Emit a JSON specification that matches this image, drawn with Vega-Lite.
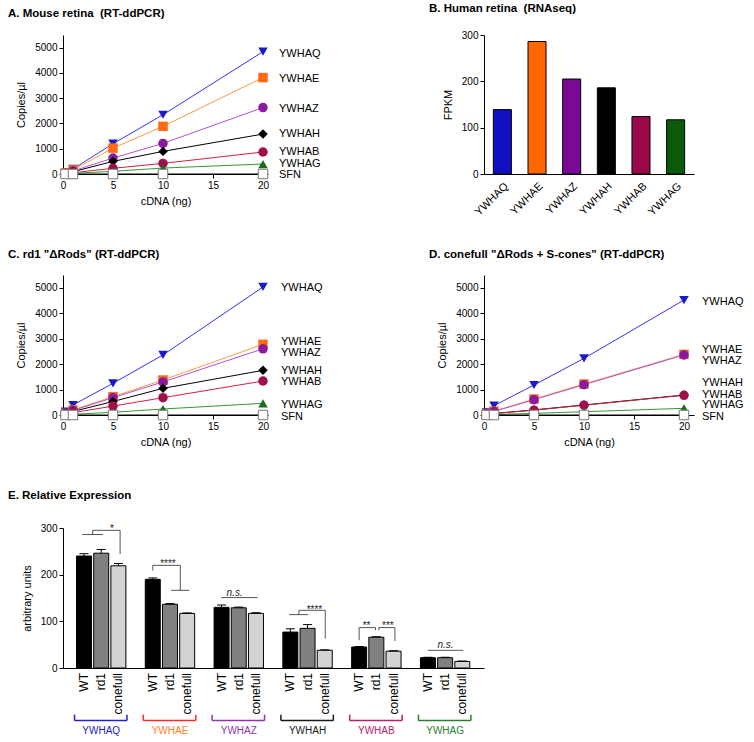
{
  "$schema": "https://vega.github.io/schema/vega-lite/v6.json",
  "padding": {"left": 8, "top": 2, "right": 5, "bottom": 5},
  "config": {
    "font": "Liberation Sans",
    "view": {"stroke": null},
    "axis": {"grid": false, "domainColor": "#000", "tickColor": "#000", "labelColor": "#000", "titleColor": "#000", "labelFontSize": 10, "titleFontSize": 11, "titleFontWeight": "normal", "tickSize": 4, "labelPadding": 2, "labelFlush": false, "labelOverlap": false},
    "axisQuantitative": {"format": "d"},
    "axisX": {"titlePadding": 5},
    "axisY": {"titlePadding": 8},
    "title": {"fontSize": 11.5, "fontWeight": "bold", "anchor": "start", "frame": "group", "dx": -55, "color": "#000", "offset": 16}
  },
  "resolve": {"scale": {"fill": "independent", "stroke": "independent", "shape": "independent", "color": "independent"}},
  "datasets": {
    "curves": [
      {"p":"A","s":"YWHAQ","ng":0.25,"c":60},{"p":"A","s":"YWHAQ","ng":1,"c":200},{"p":"A","s":"YWHAQ","ng":5,"c":1200},{"p":"A","s":"YWHAQ","ng":10,"c":2345},{"p":"A","s":"YWHAQ","ng":20,"c":4840},
      {"p":"A","s":"YWHAE","ng":0.25,"c":45},{"p":"A","s":"YWHAE","ng":1,"c":160},{"p":"A","s":"YWHAE","ng":5,"c":1025},{"p":"A","s":"YWHAE","ng":10,"c":1885},{"p":"A","s":"YWHAE","ng":20,"c":3815},
      {"p":"A","s":"YWHAZ","ng":0.25,"c":30},{"p":"A","s":"YWHAZ","ng":1,"c":120},{"p":"A","s":"YWHAZ","ng":5,"c":630},{"p":"A","s":"YWHAZ","ng":10,"c":1210},{"p":"A","s":"YWHAZ","ng":20,"c":2630},
      {"p":"A","s":"YWHAH","ng":0.25,"c":20},{"p":"A","s":"YWHAH","ng":1,"c":90},{"p":"A","s":"YWHAH","ng":5,"c":500},{"p":"A","s":"YWHAH","ng":10,"c":895},{"p":"A","s":"YWHAH","ng":20,"c":1580},
      {"p":"A","s":"YWHAB","ng":0.25,"c":12},{"p":"A","s":"YWHAB","ng":1,"c":50},{"p":"A","s":"YWHAB","ng":5,"c":225},{"p":"A","s":"YWHAB","ng":10,"c":420},{"p":"A","s":"YWHAB","ng":20,"c":870},
      {"p":"A","s":"YWHAG","ng":0.25,"c":5},{"p":"A","s":"YWHAG","ng":1,"c":25},{"p":"A","s":"YWHAG","ng":5,"c":105},{"p":"A","s":"YWHAG","ng":10,"c":235},{"p":"A","s":"YWHAG","ng":20,"c":395},
      {"p":"A","s":"SFN","ng":0.25,"c":0},{"p":"A","s":"SFN","ng":1,"c":0},{"p":"A","s":"SFN","ng":5,"c":0},{"p":"A","s":"SFN","ng":10,"c":0},{"p":"A","s":"SFN","ng":20,"c":0},
      {"p":"C","s":"YWHAQ","ng":0.25,"c":130},{"p":"C","s":"YWHAQ","ng":1,"c":393},{"p":"C","s":"YWHAQ","ng":5,"c":1245},{"p":"C","s":"YWHAQ","ng":10,"c":2360},{"p":"C","s":"YWHAQ","ng":20,"c":5030},
      {"p":"C","s":"YWHAE","ng":0.25,"c":60},{"p":"C","s":"YWHAE","ng":1,"c":200},{"p":"C","s":"YWHAE","ng":5,"c":720},{"p":"C","s":"YWHAE","ng":10,"c":1375},{"p":"C","s":"YWHAE","ng":20,"c":2776},
      {"p":"C","s":"YWHAZ","ng":0.25,"c":50},{"p":"C","s":"YWHAZ","ng":1,"c":180},{"p":"C","s":"YWHAZ","ng":5,"c":680},{"p":"C","s":"YWHAZ","ng":10,"c":1300},{"p":"C","s":"YWHAZ","ng":20,"c":2600},
      {"p":"C","s":"YWHAH","ng":0.25,"c":40},{"p":"C","s":"YWHAH","ng":1,"c":140},{"p":"C","s":"YWHAH","ng":5,"c":530},{"p":"C","s":"YWHAH","ng":10,"c":1047},{"p":"C","s":"YWHAH","ng":20,"c":1754},
      {"p":"C","s":"YWHAB","ng":0.25,"c":25},{"p":"C","s":"YWHAB","ng":1,"c":90},{"p":"C","s":"YWHAB","ng":5,"c":350},{"p":"C","s":"YWHAB","ng":10,"c":680},{"p":"C","s":"YWHAB","ng":20,"c":1335},
      {"p":"C","s":"YWHAG","ng":0.25,"c":10},{"p":"C","s":"YWHAG","ng":1,"c":30},{"p":"C","s":"YWHAG","ng":5,"c":105},{"p":"C","s":"YWHAG","ng":10,"c":236},{"p":"C","s":"YWHAG","ng":20,"c":458},
      {"p":"C","s":"SFN","ng":0.25,"c":0},{"p":"C","s":"SFN","ng":1,"c":0},{"p":"C","s":"SFN","ng":5,"c":0},{"p":"C","s":"SFN","ng":10,"c":0},{"p":"C","s":"SFN","ng":20,"c":0},
      {"p":"D","s":"YWHAQ","ng":0.25,"c":105},{"p":"D","s":"YWHAQ","ng":1,"c":367},{"p":"D","s":"YWHAQ","ng":5,"c":1178},{"p":"D","s":"YWHAQ","ng":10,"c":2225},{"p":"D","s":"YWHAQ","ng":20,"c":4517},
      {"p":"D","s":"YWHAE","ng":0.25,"c":50},{"p":"D","s":"YWHAE","ng":1,"c":150},{"p":"D","s":"YWHAE","ng":5,"c":628},{"p":"D","s":"YWHAE","ng":10,"c":1217},{"p":"D","s":"YWHAE","ng":20,"c":2382},
      {"p":"D","s":"YWHAZ","ng":0.25,"c":45},{"p":"D","s":"YWHAZ","ng":1,"c":140},{"p":"D","s":"YWHAZ","ng":5,"c":600},{"p":"D","s":"YWHAZ","ng":10,"c":1190},{"p":"D","s":"YWHAZ","ng":20,"c":2360},
      {"p":"D","s":"YWHAH","ng":0.25,"c":20},{"p":"D","s":"YWHAH","ng":1,"c":60},{"p":"D","s":"YWHAH","ng":5,"c":200},{"p":"D","s":"YWHAH","ng":10,"c":393},{"p":"D","s":"YWHAH","ng":20,"c":785},
      {"p":"D","s":"YWHAB","ng":0.25,"c":18},{"p":"D","s":"YWHAB","ng":1,"c":55},{"p":"D","s":"YWHAB","ng":5,"c":190},{"p":"D","s":"YWHAB","ng":10,"c":385},{"p":"D","s":"YWHAB","ng":20,"c":775},
      {"p":"D","s":"YWHAG","ng":0.25,"c":8},{"p":"D","s":"YWHAG","ng":1,"c":20},{"p":"D","s":"YWHAG","ng":5,"c":65},{"p":"D","s":"YWHAG","ng":10,"c":130},{"p":"D","s":"YWHAG","ng":20,"c":262},
      {"p":"D","s":"SFN","ng":0.25,"c":0},{"p":"D","s":"SFN","ng":1,"c":0},{"p":"D","s":"SFN","ng":5,"c":0},{"p":"D","s":"SFN","ng":10,"c":0},{"p":"D","s":"SFN","ng":20,"c":0}
    ],
    "ends": [
      {"p":"A","s":"YWHAQ","ng":20,"c":4760},{"p":"A","s":"YWHAE","ng":20,"c":3775},{"p":"A","s":"YWHAZ","ng":20,"c":2590},{"p":"A","s":"YWHAH","ng":20,"c":1565},{"p":"A","s":"YWHAB","ng":20,"c":855},{"p":"A","s":"YWHAG","ng":20,"c":385},{"p":"A","s":"SFN","ng":20,"c":-50},
      {"p":"C","s":"YWHAQ","ng":20,"c":5000},{"p":"C","s":"YWHAE","ng":20,"c":2880},{"p":"C","s":"YWHAZ","ng":20,"c":2450},{"p":"C","s":"YWHAH","ng":20,"c":1740},{"p":"C","s":"YWHAB","ng":20,"c":1280},{"p":"C","s":"YWHAG","ng":20,"c":405},{"p":"C","s":"SFN","ng":20,"c":-67},
      {"p":"D","s":"YWHAQ","ng":20,"c":4450},{"p":"D","s":"YWHAE","ng":20,"c":2566},{"p":"D","s":"YWHAZ","ng":20,"c":2134},{"p":"D","s":"YWHAH","ng":20,"c":1260},{"p":"D","s":"YWHAB","ng":20,"c":800},{"p":"D","s":"YWHAG","ng":20,"c":390},{"p":"D","s":"SFN","ng":20,"c":-75}
    ],
    "human": [
      {"gene":"YWHAQ","fpkm":139},{"gene":"YWHAE","fpkm":286},{"gene":"YWHAZ","fpkm":205},{"gene":"YWHAH","fpkm":186},{"gene":"YWHAB","fpkm":124},{"gene":"YWHAG","fpkm":117}
    ],
    "rel": [
      {"gene":"YWHAQ","geno":"WT","pos":0,"mean":240,"hi":245},{"gene":"YWHAQ","geno":"rd1","pos":1,"mean":246,"hi":254},{"gene":"YWHAQ","geno":"conefull","pos":2,"mean":219,"hi":224},
      {"gene":"YWHAE","geno":"WT","pos":4,"mean":190,"hi":193},{"gene":"YWHAE","geno":"rd1","pos":5,"mean":136.5,"hi":138},{"gene":"YWHAE","geno":"conefull","pos":6,"mean":117,"hi":118},
      {"gene":"YWHAZ","geno":"WT","pos":8,"mean":130,"hi":135},{"gene":"YWHAZ","geno":"rd1","pos":9,"mean":129,"hi":130.5},{"gene":"YWHAZ","geno":"conefull","pos":10,"mean":117,"hi":118.5},
      {"gene":"YWHAH","geno":"WT","pos":12,"mean":77,"hi":84},{"gene":"YWHAH","geno":"rd1","pos":13,"mean":85,"hi":93},{"gene":"YWHAH","geno":"conefull","pos":14,"mean":38,"hi":39},
      {"gene":"YWHAB","geno":"WT","pos":16,"mean":45,"hi":46},{"gene":"YWHAB","geno":"rd1","pos":17,"mean":66,"hi":67},{"gene":"YWHAB","geno":"conefull","pos":18,"mean":36,"hi":37},
      {"gene":"YWHAG","geno":"WT","pos":20,"mean":22,"hi":23},{"gene":"YWHAG","geno":"rd1","pos":21,"mean":22,"hi":23},{"gene":"YWHAG","geno":"conefull","pos":22,"mean":14,"hi":15}
    ],
    "seg": [
      {"x":-0.1,"x2":1.1,"y":286,"y2":286},{"x":0.5,"x2":0.5,"y":286,"y2":295},{"x":0.5,"x2":2.1,"y":295,"y2":295},{"x":2.1,"x2":2.1,"y":295,"y2":244},
      {"x":4.0,"x2":4.0,"y":209,"y2":220},{"x":4.0,"x2":5.6,"y":220,"y2":220},{"x":5.6,"x2":5.6,"y":220,"y2":166.5},{"x":5.07,"x2":6.12,"y":166.5,"y2":166.5},
      {"x":7.97,"x2":10.09,"y":150.9,"y2":150.9},
      {"x":11.94,"x2":13.02,"y":114.4,"y2":114.4},{"x":12.5,"x2":12.5,"y":114.4,"y2":123.6},{"x":12.5,"x2":14.03,"y":123.6,"y2":123.6},{"x":14.03,"x2":14.03,"y":123.6,"y2":63},
      {"x":16.0,"x2":16.0,"y":59.4,"y2":86.6},{"x":16.0,"x2":16.95,"y":86.6,"y2":86.6},{"x":16.95,"x2":16.95,"y":86.6,"y2":80.8},
      {"x":17.14,"x2":17.14,"y":86.6,"y2":80.8},{"x":17.14,"x2":18.08,"y":86.6,"y2":86.6},{"x":18.08,"x2":18.08,"y":86.6,"y2":57.9},
      {"x":19.99,"x2":22.06,"y":37.9,"y2":37.9}
    ],
    "sig": [
      {"x":1.63,"y":297.8,"t":"*","it":false},{"x":4.88,"y":222.8,"t":"****","it":false},{"x":8.76,"y":160,"t":"n.s.","it":true},
      {"x":13.4,"y":124.9,"t":"****","it":false},{"x":16.43,"y":89.4,"t":"**","it":false},{"x":17.67,"y":89.4,"t":"***","it":false},{"x":21.02,"y":48.6,"t":"n.s.","it":true}
    ],
    "brk": [
      {"gene":"YWHAQ","x":-0.55,"x2":2.5,"y":-112.7,"y2":-112.7},{"gene":"YWHAQ","x":-0.55,"x2":-0.55,"y":-112.7,"y2":-100},{"gene":"YWHAQ","x":2.5,"x2":2.5,"y":-112.7,"y2":-100},
      {"gene":"YWHAE","x":3.45,"x2":6.5,"y":-112.7,"y2":-112.7},{"gene":"YWHAE","x":3.45,"x2":3.45,"y":-112.7,"y2":-100},{"gene":"YWHAE","x":6.5,"x2":6.5,"y":-112.7,"y2":-100},
      {"gene":"YWHAZ","x":7.45,"x2":10.5,"y":-112.7,"y2":-112.7},{"gene":"YWHAZ","x":7.45,"x2":7.45,"y":-112.7,"y2":-100},{"gene":"YWHAZ","x":10.5,"x2":10.5,"y":-112.7,"y2":-100},
      {"gene":"YWHAH","x":11.45,"x2":14.5,"y":-112.7,"y2":-112.7},{"gene":"YWHAH","x":11.45,"x2":11.45,"y":-112.7,"y2":-100},{"gene":"YWHAH","x":14.5,"x2":14.5,"y":-112.7,"y2":-100},
      {"gene":"YWHAB","x":15.45,"x2":18.5,"y":-112.7,"y2":-112.7},{"gene":"YWHAB","x":15.45,"x2":15.45,"y":-112.7,"y2":-100},{"gene":"YWHAB","x":18.5,"x2":18.5,"y":-112.7,"y2":-100},
      {"gene":"YWHAG","x":19.45,"x2":22.5,"y":-112.7,"y2":-112.7},{"gene":"YWHAG","x":19.45,"x2":19.45,"y":-112.7,"y2":-100},{"gene":"YWHAG","x":22.5,"x2":22.5,"y":-112.7,"y2":-100}
    ],
    "gname": [
      {"gene":"YWHAQ","x":1,"y":-134.8},{"gene":"YWHAE","x":5,"y":-134.8},{"gene":"YWHAZ","x":9,"y":-134.8},{"gene":"YWHAH","x":13,"y":-134.8},{"gene":"YWHAB","x":17,"y":-134.8},{"gene":"YWHAG","x":21,"y":-134.8}
    ]
  },
  "vconcat": [
    {
      "resolve": {"scale": {"fill": "independent", "stroke": "independent", "shape": "independent", "color": "independent"}},
      "vconcat": [
        {
          "resolve": {"scale": {"fill": "independent", "stroke": "independent", "shape": "independent", "color": "independent"}},
          "hconcat": [
            {
              "width": 205, "height": 139,
              "title": {"text": "A. Mouse retina \u00a0(RT-ddPCR)", "anchor": "start", "frame": "group", "dx": -55, "offset": 16},
              "encoding": {
                "x": {"field": "ng", "type": "quantitative", "scale": {"domain": [0, 20.5], "nice": false, "zero": false}, "axis": {"values": [0,5,10,15,20], "title": "cDNA (ng)"}},
                "y": {"field": "c", "type": "quantitative", "scale": {"domain": [0, 5500], "nice": false}, "axis": {"values": [0,1000,2000,3000,4000,5000], "title": "Copies/µl"}}
              },
              "layer": [
                {"data": {"name": "curves"}, "transform": [{"filter": "datum.p === 'A'"}],
                 "mark": {"type": "line", "strokeWidth": 1},
                 "encoding": {"stroke": {"field": "s", "type": "nominal", "legend": null, "scale": {"domain": ["YWHAQ","YWHAE","YWHAZ","YWHAH","YWHAB","YWHAG","SFN"], "range": ["#3333ee","#ff9944","#a855d6","#000000","#cc2244","#339933","#000000"]}}}},
                {"data": {"name": "curves"}, "transform": [{"filter": "datum.p === 'A' && datum.s !== 'SFN'"}],
                 "mark": {"type": "point", "filled": true, "size": 90, "opacity": 1},
                 "encoding": {
                   "fill": {"field": "s", "type": "nominal", "legend": null, "scale": {"domain": ["YWHAQ","YWHAE","YWHAZ","YWHAH","YWHAB","YWHAG"], "range": ["#1a1ac8","#ff6a13","#8a1aa0","#000000","#a0104a","#1f6b1f"]}},
                   "shape": {"field": "s", "type": "nominal", "legend": null, "scale": {"domain": ["YWHAQ","YWHAE","YWHAZ","YWHAH","YWHAB","YWHAG"], "range": ["triangle-down","square","circle","diamond","circle","triangle-up"]}}}},
                {"data": {"name": "curves"}, "transform": [{"filter": "datum.p === 'A' && datum.s === 'SFN'"}],
                 "mark": {"type": "point", "shape": "square", "filled": true, "fill": "#ffffff", "stroke": "#777777", "strokeWidth": 1, "size": 90, "opacity": 1}},
                {"data": {"name": "ends"}, "transform": [{"filter": "datum.p === 'A'"}],
                 "mark": {"type": "text", "align": "left", "baseline": "middle", "dx": 16, "fontSize": 11},
                 "encoding": {"text": {"field": "s"}}}
              ]
            },
            {
              "width": 210, "height": 139,
              "title": {"text": "B. Human retina \u00a0(RNAseq)", "anchor": "start", "frame": "group", "dx": -55, "offset": 16},
              "data": {"name": "human"},
              "mark": {"type": "bar", "stroke": "#000", "strokeWidth": 1},
              "encoding": {
                "x": {"field": "gene", "type": "nominal", "sort": null, "scale": {"paddingInner": 0.48, "paddingOuter": 0.27}, "axis": {"title": null, "labelAngle": -45, "ticks": false, "labelFontSize": 11, "labelPadding": 6}},
                "y": {"field": "fpkm", "type": "quantitative", "scale": {"domain": [0, 300], "nice": false}, "axis": {"values": [0,100,200,300], "title": "FPKM"}},
                "fill": {"field": "gene", "type": "nominal", "legend": null, "scale": {"domain": ["YWHAQ","YWHAE","YWHAZ","YWHAH","YWHAB","YWHAG"], "range": ["#1010c0","#ff6600","#7a0a96","#000000","#9a0a4a","#0a5a0a"]}}
              }
            }
          ],
          "spacing": 108
        },
        {
          "resolve": {"scale": {"fill": "independent", "stroke": "independent", "shape": "independent", "color": "independent"}},
          "hconcat": [
            {
              "width": 205, "height": 140,
              "title": {"text": "C. rd1 \"ΔRods\" (RT-ddPCR)", "anchor": "start", "frame": "group", "dx": -55, "offset": 15},
              "encoding": {
                "x": {"field": "ng", "type": "quantitative", "scale": {"domain": [0, 20.5], "nice": false, "zero": false}, "axis": {"values": [0,5,10,15,20], "title": "cDNA (ng)"}},
                "y": {"field": "c", "type": "quantitative", "scale": {"domain": [0, 5500], "nice": false}, "axis": {"values": [0,1000,2000,3000,4000,5000], "title": "Copies/µl"}}
              },
              "layer": [
                {"data": {"name": "curves"}, "transform": [{"filter": "datum.p === 'C'"}],
                 "mark": {"type": "line", "strokeWidth": 1},
                 "encoding": {"stroke": {"field": "s", "type": "nominal", "legend": null, "scale": {"domain": ["YWHAQ","YWHAE","YWHAZ","YWHAH","YWHAB","YWHAG","SFN"], "range": ["#3333ee","#ff9944","#a855d6","#000000","#cc2244","#339933","#000000"]}}}},
                {"data": {"name": "curves"}, "transform": [{"filter": "datum.p === 'C' && datum.s !== 'SFN'"}],
                 "mark": {"type": "point", "filled": true, "size": 90, "opacity": 1},
                 "encoding": {
                   "fill": {"field": "s", "type": "nominal", "legend": null, "scale": {"domain": ["YWHAQ","YWHAE","YWHAZ","YWHAH","YWHAB","YWHAG"], "range": ["#1a1ac8","#ff6a13","#8a1aa0","#000000","#a0104a","#1f6b1f"]}},
                   "shape": {"field": "s", "type": "nominal", "legend": null, "scale": {"domain": ["YWHAQ","YWHAE","YWHAZ","YWHAH","YWHAB","YWHAG"], "range": ["triangle-down","square","circle","diamond","circle","triangle-up"]}}}},
                {"data": {"name": "curves"}, "transform": [{"filter": "datum.p === 'C' && datum.s === 'SFN'"}],
                 "mark": {"type": "point", "shape": "square", "filled": true, "fill": "#ffffff", "stroke": "#777777", "strokeWidth": 1, "size": 90, "opacity": 1}},
                {"data": {"name": "ends"}, "transform": [{"filter": "datum.p === 'C'"}],
                 "mark": {"type": "text", "align": "left", "baseline": "middle", "dx": 18, "fontSize": 11},
                 "encoding": {"text": {"field": "s"}}}
              ]
            },
            {
              "width": 210, "height": 140,
              "title": {"text": "D. conefull \"ΔRods + S-cones\" (RT-ddPCR)", "anchor": "start", "frame": "group", "dx": -55, "offset": 15},
              "encoding": {
                "x": {"field": "ng", "type": "quantitative", "scale": {"domain": [0, 21], "nice": false, "zero": false}, "axis": {"values": [0,5,10,15,20], "title": "cDNA (ng)"}},
                "y": {"field": "c", "type": "quantitative", "scale": {"domain": [0, 5500], "nice": false}, "axis": {"values": [0,1000,2000,3000,4000,5000], "title": "Copies/µl"}}
              },
              "layer": [
                {"data": {"name": "curves"}, "transform": [{"filter": "datum.p === 'D'"}],
                 "mark": {"type": "line", "strokeWidth": 1},
                 "encoding": {"stroke": {"field": "s", "type": "nominal", "legend": null, "scale": {"domain": ["YWHAQ","YWHAE","YWHAZ","YWHAH","YWHAB","YWHAG","SFN"], "range": ["#3333ee","#ff9944","#a855d6","#000000","#cc2244","#339933","#000000"]}}}},
                {"data": {"name": "curves"}, "transform": [{"filter": "datum.p === 'D' && datum.s !== 'SFN'"}],
                 "mark": {"type": "point", "filled": true, "size": 90, "opacity": 1},
                 "encoding": {
                   "fill": {"field": "s", "type": "nominal", "legend": null, "scale": {"domain": ["YWHAQ","YWHAE","YWHAZ","YWHAH","YWHAB","YWHAG"], "range": ["#1a1ac8","#ff6a13","#8a1aa0","#000000","#a0104a","#1f6b1f"]}},
                   "shape": {"field": "s", "type": "nominal", "legend": null, "scale": {"domain": ["YWHAQ","YWHAE","YWHAZ","YWHAH","YWHAB","YWHAG"], "range": ["triangle-down","square","circle","diamond","circle","triangle-up"]}}}},
                {"data": {"name": "curves"}, "transform": [{"filter": "datum.p === 'D' && datum.s === 'SFN'"}],
                 "mark": {"type": "point", "shape": "square", "filled": true, "fill": "#ffffff", "stroke": "#777777", "strokeWidth": 1, "size": 90, "opacity": 1}},
                {"data": {"name": "ends"}, "transform": [{"filter": "datum.p === 'D'"}],
                 "mark": {"type": "text", "align": "left", "baseline": "middle", "dx": 18, "fontSize": 11},
                 "encoding": {"text": {"field": "s"}}}
              ]
            }
          ],
          "spacing": 106
        }
      ],
      "spacing": 30
    },
    {
      "width": 421, "height": 140,
      "title": {"text": "E. Relative Expression", "anchor": "start", "frame": "group", "dx": -55, "offset": 22},
      "resolve": {"scale": {"fill": "independent", "stroke": "independent", "color": "independent"}},
      "layer": [
        {"data": {"name": "rel"},
         "mark": {"type": "bar", "width": 15, "stroke": "#000", "strokeWidth": 1},
         "encoding": {
           "x": {"field": "pos", "type": "quantitative", "scale": {"domain": [-0.93, 22.97], "nice": false, "zero": false}, "axis": {"title": null, "values": [0,1,2,4,5,6,8,9,10,12,13,14,16,17,18,20,21,22], "labels": false, "ticks": false}},
           "y": {"field": "mean", "type": "quantitative", "scale": {"domain": [0, 300], "nice": false}, "axis": {"values": [0,100,200,300], "title": "arbitrary units"}},
           "fill": {"field": "geno", "type": "nominal", "legend": null, "scale": {"domain": ["WT","rd1","conefull"], "range": ["#000000","#808080","#d3d3d3"]}}
         }},
        {"data": {"name": "rel"},
         "mark": {"type": "rule", "color": "#000", "strokeWidth": 1},
         "encoding": {"x": {"field": "pos", "type": "quantitative", "title": null}, "y": {"field": "mean", "type": "quantitative", "title": "arbitrary units"}, "y2": {"field": "hi"}}},
        {"data": {"name": "rel"},
         "mark": {"type": "tick", "orient": "horizontal", "size": 9, "thickness": 1, "color": "#000", "opacity": 1},
         "encoding": {"x": {"field": "pos", "type": "quantitative", "title": null}, "y": {"field": "hi", "type": "quantitative", "title": "arbitrary units"}}},
        {"data": {"name": "rel"},
         "mark": {"type": "text", "angle": 270, "align": "right", "baseline": "middle", "dx": -5, "fontSize": 12, "fill": "#000"},
         "encoding": {"x": {"field": "pos", "type": "quantitative", "title": null}, "y": {"datum": 0, "type": "quantitative", "title": "arbitrary units"}, "text": {"field": "geno"}}},
        {"data": {"name": "seg"},
         "mark": {"type": "rule", "color": "#555555", "strokeWidth": 1},
         "encoding": {"x": {"field": "x", "type": "quantitative", "title": null}, "x2": {"field": "x2"}, "y": {"field": "y", "type": "quantitative", "title": "arbitrary units"}, "y2": {"field": "y2"}}},
        {"data": {"name": "sig"}, "transform": [{"filter": "!datum.it"}],
         "mark": {"type": "text", "fontSize": 10, "baseline": "middle", "align": "center", "fill": "#222222"},
         "encoding": {"x": {"field": "x", "type": "quantitative", "title": null}, "y": {"field": "y", "type": "quantitative", "title": "arbitrary units"}, "text": {"field": "t"}}},
        {"data": {"name": "sig"}, "transform": [{"filter": "datum.it"}],
         "mark": {"type": "text", "fontSize": 10, "fontStyle": "italic", "baseline": "middle", "align": "center", "fill": "#222222"},
         "encoding": {"x": {"field": "x", "type": "quantitative", "title": null}, "y": {"field": "y", "type": "quantitative", "title": "arbitrary units"}, "text": {"field": "t"}}},
        {"data": {"name": "brk"},
         "mark": {"type": "rule", "strokeWidth": 1.5},
         "encoding": {"x": {"field": "x", "type": "quantitative", "title": null}, "x2": {"field": "x2"}, "y": {"field": "y", "type": "quantitative", "title": "arbitrary units"}, "y2": {"field": "y2"},
           "stroke": {"field": "gene", "type": "nominal", "legend": null, "scale": {"domain": ["YWHAQ","YWHAE","YWHAZ","YWHAH","YWHAB","YWHAG"], "range": ["#2323c8","#ff2a2a","#8e35b5","#1a1a1a","#b5206a","#2e7d32"]}}}},
        {"data": {"name": "gname"},
         "mark": {"type": "text", "fontSize": 10, "baseline": "middle", "align": "center"},
         "encoding": {"x": {"field": "x", "type": "quantitative", "title": null}, "y": {"field": "y", "type": "quantitative", "title": "arbitrary units"}, "text": {"field": "gene"},
           "color": {"field": "gene", "type": "nominal", "legend": null, "scale": {"domain": ["YWHAQ","YWHAE","YWHAZ","YWHAH","YWHAB","YWHAG"], "range": ["#2323c8","#ff7f27","#8e35b5","#1a1a1a","#b5206a","#2e7d32"]}}}}
      ]
    }
  ],
  "spacing": 42
}
